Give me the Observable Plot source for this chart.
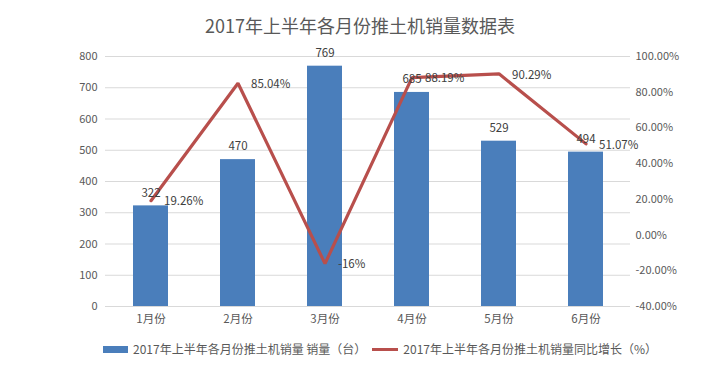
<!DOCTYPE html>
<html><head><meta charset="utf-8">
<script src="https://cdn.jsdelivr.net/npm/d3@7"></script>
<script src="https://cdn.jsdelivr.net/npm/@observablehq/plot@0.6"></script>
<style>
body{margin:0;background:#fff;font-family:"Noto Sans CJK SC","Noto Sans",sans-serif;}
#wrap{width:720px;height:378px;position:relative;overflow:hidden;}
#title{position:absolute;left:0;top:12px;width:720px;text-align:center;font-size:18px;color:#595959;line-height:26px;}
#chart{position:absolute;left:0;top:40px;}
#legend{position:absolute;left:103px;top:340px;font-size:12px;color:#595959;display:flex;align-items:center;white-space:nowrap;line-height:18px;}
.sw{display:inline-block;width:25px;height:7px;background:#4a7ebb;margin-right:5px;}
.ln{display:inline-block;width:26px;height:3px;background:#b84f4c;margin:0 5px 0 6px;}
</style></head>
<body><div id="wrap">
<div id="title"></div>
<div id="chart"></div>
<div id="legend"></div>
</div>
<script>
const titleText = "2017年上半年各月份推土机销量数据表";
const months = ["1月份","2月份","3月份","4月份","5月份","6月份"];
const sales = [322,470,769,685,529,494];
const growth = [19.26,85.04,-16,88.19,90.29,51.07];
const growthLabels = ["19.26%","85.04%","-16%","88.19%","90.29%","51.07%"];
const leftTicks = [0,100,200,300,400,500,600,700,800];
const rightTicks = [-40,-20,0,20,40,60,80,100];
const seriesNames = ["2017年上半年各月份推土机销量 销量（台）","2017年上半年各月份推土机销量同比增长（%）"];

const pMin = -40, pMax = 100, yMax = 800;
const toLeft = p => (p - pMin) / (pMax - pMin) * yMax;

const data = months.map((m,i)=>({m, s:sales[i], g:growth[i], gv:toLeft(growth[i]), gl:growthLabels[i]}));

document.getElementById("title").textContent = titleText;
document.getElementById("legend").innerHTML =
  `<span class="sw"></span><span>${seriesNames[0]}</span><span class="ln"></span><span>${seriesNames[1]}</span>`;

const chart = Plot.plot({
  width: 720, height: 300,
  marginLeft: 105, marginRight: 90, marginTop: 16, marginBottom: 34,
  style: {fontFamily: '"Noto Sans CJK SC","Noto Sans",sans-serif', fontSize: "11px", color: "#595959", background: "#fff"},
  x: {domain: months, paddingInner: 0.6, paddingOuter: 0.3, label: null},
  y: {domain: [0, yMax], label: null},
  marks: [
    Plot.gridY(leftTicks, {stroke: "#d9d9d9", strokeOpacity: 1}),
    Plot.axisY(leftTicks, {anchor: "left", tickSize: 0, tickPadding: 8, label: null, fill: "#595959", fontSize: 11}),
    Plot.axisY(rightTicks.map(toLeft), {anchor: "right", tickSize: 0, tickPadding: 5, label: null, fill: "#595959", fontSize: 11,
      tickFormat: v => (v / yMax * (pMax - pMin) + pMin).toFixed(2) + "%"}),
    Plot.axisX({tickSize: 0, tickPadding: 8, label: null, fill: "#595959", fontSize: 11.5}),
    Plot.barY(data, {x: "m", y: "s", fill: "#4a7ebb"}),
    Plot.line(data, {x: "m", y: "gv", stroke: "#b84f4c", strokeWidth: 3.2, strokeLinejoin: "miter"}),
    Plot.text(data, {x: "m", y: "s", text: d => String(d.s), dy: -13, fill: "#404040", fontSize: 11.5}),
    Plot.text(data, {x: "m", y: "gv", text: "gl", dx: 13, dy: 1, textAnchor: "start", fill: "#404040", fontSize: 11.5})
  ]
});
document.getElementById("chart").appendChild(chart);
</script>
</body></html>
